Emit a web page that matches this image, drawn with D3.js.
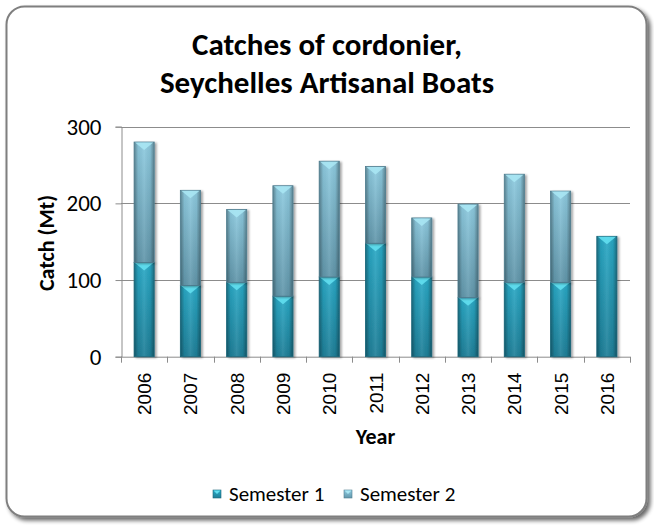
<!DOCTYPE html>
<html>
<head>
<meta charset="utf-8">
<script src="https://cdn.jsdelivr.net/npm/d3@7"></script>
<style>
  html, body { margin: 0; padding: 0; background: #ffffff; }
  svg { display: block; }
</style>
</head>
<body>
<svg id="chart" width="654" height="525"></svg>
<script>
const years = ["2006","2007","2008","2009","2010","2011","2012","2013","2014","2015","2016"];
const semester1 = [123, 93, 97, 79, 104, 148, 104, 77, 97, 97, 157];
const semester2 = [157, 124, 95, 144, 151, 100, 77, 122, 141, 119, 0];
const seriesNames = ["Semester 1", "Semester 2"];
const yTicks = [0, 100, 200, 300];
const titleLines = ["Catches of cordonier,", "Seychelles Artisanal Boats"];

const svg = d3.select("#chart");
const W = 654, H = 525;
const margin = { left: 121, right: 24, top: 126.7, bottom: 168.3 };
const plotW = W - margin.left - margin.right;
const plotH = H - margin.top - margin.bottom;
const fontMain = "Carlito, Calibri, Lato, 'Open Sans', sans-serif";

const defs = svg.append("defs");

// frame shadow
const sh = defs.append("filter").attr("id", "frameShadow").attr("x", "-5%").attr("y", "-5%").attr("width", "110%").attr("height", "110%");
sh.append("feGaussianBlur").attr("in", "SourceAlpha").attr("stdDeviation", 2.2);
sh.append("feOffset").attr("dx", 2.5).attr("dy", 2.5).attr("result", "ob");
sh.append("feComponentTransfer").append("feFuncA").attr("type", "linear").attr("slope", 0.6);
const mg = sh.append("feMerge");
mg.append("feMergeNode");
mg.append("feMergeNode").attr("in", "SourceGraphic");

// bar shadow
const bs = defs.append("filter").attr("id", "barShadow").attr("x", "-30%").attr("y", "-10%").attr("width", "160%").attr("height", "120%");
bs.append("feGaussianBlur").attr("in", "SourceAlpha").attr("stdDeviation", 1.2);
bs.append("feOffset").attr("dx", 1.5).attr("dy", 1).attr("result", "ob");
bs.append("feComponentTransfer").append("feFuncA").attr("type", "linear").attr("slope", 0.35);
const mg2 = bs.append("feMerge");
mg2.append("feMergeNode");
mg2.append("feMergeNode").attr("in", "SourceGraphic");

function vGrad(id, stops) {
  const g = defs.append("linearGradient").attr("id", id).attr("x1", 0).attr("y1", 0).attr("x2", 0).attr("y2", 1);
  stops.forEach(s => g.append("stop").attr("offset", s[0]).attr("stop-color", s[1]));
}
vGrad("g1", [[0, "#2aa9c6"], [1, "#1f7f98"]]);
vGrad("g2", [[0, "#8ecbe0"], [1, "#6297ab"]]);
const hg = defs.append("linearGradient").attr("id", "edge").attr("x1", 0).attr("y1", 0).attr("x2", 1).attr("y2", 0);
[[0, "#000", 0.35], [0.2, "#000", 0.05], [0.5, "#fff", 0.08], [0.8, "#000", 0.05], [1, "#000", 0.35]]
  .forEach(s => hg.append("stop").attr("offset", s[0]).attr("stop-color", s[1]).attr("stop-opacity", s[2]));

// outer frame
svg.append("rect")
  .attr("x", 6.5).attr("y", 6.5).attr("width", 640).attr("height", 510)
  .attr("rx", 18).attr("ry", 18)
  .attr("fill", "#ffffff").attr("stroke", "#7f7f7f").attr("stroke-width", 2)
  .attr("filter", "url(#frameShadow)");

// title
svg.append("text")
  .attr("x", 327).attr("y", 55)
  .attr("text-anchor", "middle")
  .attr("font-family", fontMain).attr("font-weight", "bold").attr("font-size", 31)
  .attr("fill", "#000")
  .selectAll("tspan").data(titleLines).join("tspan")
  .attr("x", 327).attr("dy", (d, i) => i === 0 ? 0 : 38)
  .text(d => d);

const x = d3.scaleBand().domain(years).range([margin.left, margin.left + plotW]).paddingInner(0.565).paddingOuter(0.2825);
const y = d3.scaleLinear().domain([0, 300]).range([margin.top + plotH, margin.top]);

// gridlines
svg.append("g").selectAll("line").data(yTicks.filter(t => t > 0)).join("line")
  .attr("x1", margin.left).attr("x2", margin.left + plotW)
  .attr("y1", d => Math.round(y(d)) + 0.5).attr("y2", d => Math.round(y(d)) + 0.5)
  .attr("stroke", "#8c8c8c").attr("stroke-width", 1);

// y axis
const yAxis = svg.append("g").attr("transform", `translate(${margin.left + 0.5},0)`)
  .call(d3.axisLeft(y).tickValues(yTicks).tickSize(6).tickPadding(14).tickFormat(d3.format("d")));
yAxis.select(".domain").attr("stroke", "#8c8c8c");
yAxis.selectAll(".tick line").attr("stroke", "#8c8c8c");
yAxis.selectAll("text").attr("font-family", fontMain).attr("font-size", 23).attr("fill", "#000");

// x axis
const boundaries = years.map((d, i) => margin.left + i * (plotW / years.length)).concat([margin.left + plotW]);
const xAxisG = svg.append("g");
xAxisG.append("line")
  .attr("x1", margin.left).attr("x2", margin.left + plotW)
  .attr("y1", y(0) + 0.5).attr("y2", y(0) + 0.5)
  .attr("stroke", "#8c8c8c");
xAxisG.selectAll("line.tk").data(boundaries).join("line").attr("class", "tk")
  .attr("x1", d => Math.round(d) + 0.5).attr("x2", d => Math.round(d) + 0.5)
  .attr("y1", y(0)).attr("y2", y(0) + 6)
  .attr("stroke", "#8c8c8c");
xAxisG.selectAll("text").data(years).join("text")
  .attr("transform", d => `translate(${x(d) + x.bandwidth() / 2 + 7},${y(0) + 16}) rotate(-90)`)
  .attr("text-anchor", "end")
  .attr("font-family", "'Liberation Sans', Arial, sans-serif").attr("font-size", 19)
  .attr("fill", "#000")
  .text(d => d);

// axis titles
svg.append("text")
  .attr("transform", `translate(${54},${243}) rotate(-90)`)
  .attr("text-anchor", "middle")
  .attr("font-family", fontMain).attr("font-weight", "bold").attr("font-size", 22)
  .text("Catch (Mt)");
svg.append("text")
  .attr("x", margin.left + plotW / 2).attr("y", 444)
  .attr("text-anchor", "middle")
  .attr("font-family", fontMain).attr("font-weight", "bold").attr("font-size", 22)
  .text("Year");

// stacked bars
const data = years.map((yr, i) => ({ year: yr, s1: semester1[i], s2: semester2[i] }));
const stack = d3.stack().keys(["s1", "s2"]);
const layers = stack(data);
const fills = ["url(#g1)", "url(#g2)"];
const strokes = ["#1b6478", "#4f7d8f"];
const bevel = ["#62dff0", "#a9e6f3"];

const barsG = svg.append("g");
layers.forEach((layer, li) => {
  const segs = layer.filter(d => d[1] - d[0] > 0);
  const g = barsG.append("g").attr("filter", "url(#barShadow)");
  g.selectAll("rect.b").data(segs).join("rect").attr("class", "b")
    .attr("x", d => x(d.data.year)).attr("width", x.bandwidth())
    .attr("y", d => y(d[1])).attr("height", d => y(d[0]) - y(d[1]))
    .attr("fill", fills[li]);
  g.selectAll("rect.e").data(segs).join("rect").attr("class", "e")
    .attr("x", d => x(d.data.year)).attr("width", x.bandwidth())
    .attr("y", d => y(d[1])).attr("height", d => y(d[0]) - y(d[1]))
    .attr("fill", "url(#edge)")
    .attr("stroke", strokes[li]).attr("stroke-width", 0.8);
  g.selectAll("path.v").data(segs).join("path").attr("class", "v")
    .attr("d", d => {
      const x0 = x(d.data.year), w = x.bandwidth(), t = y(d[1]);
      return `M${x0 + 1},${t + 0.5} L${x0 + w - 1},${t + 0.5} L${x0 + w - 4},${t + 3} L${x0 + w / 2},${t + 8} L${x0 + 4},${t + 3} Z`;
    })
    .attr("fill", bevel[li]).attr("opacity", 0.9);
});

// legend
const legendItems = [
  { name: seriesNames[0], fill: "url(#g1)", stroke: strokes[0], bevel: bevel[0], bx: 213, tx: 229 },
  { name: seriesNames[1], fill: "url(#g2)", stroke: strokes[1], bevel: bevel[1], bx: 344, tx: 360 }
];
const lg = svg.append("g");
legendItems.forEach(it => {
  lg.append("rect").attr("x", it.bx).attr("y", 490).attr("width", 8).attr("height", 8)
    .attr("fill", it.fill).attr("stroke", it.stroke).attr("stroke-width", 0.6);
  lg.append("path").attr("d", `M${it.bx + 0.5},${490.5} L${it.bx + 7.5},${490.5} L${it.bx + 4},${494} Z`).attr("fill", it.bevel);
  lg.append("text").attr("x", it.tx).attr("y", 501)
    .attr("font-family", fontMain).attr("font-size", 21).attr("fill", "#000")
    .text(it.name);
});
</script>
</body>
</html>
